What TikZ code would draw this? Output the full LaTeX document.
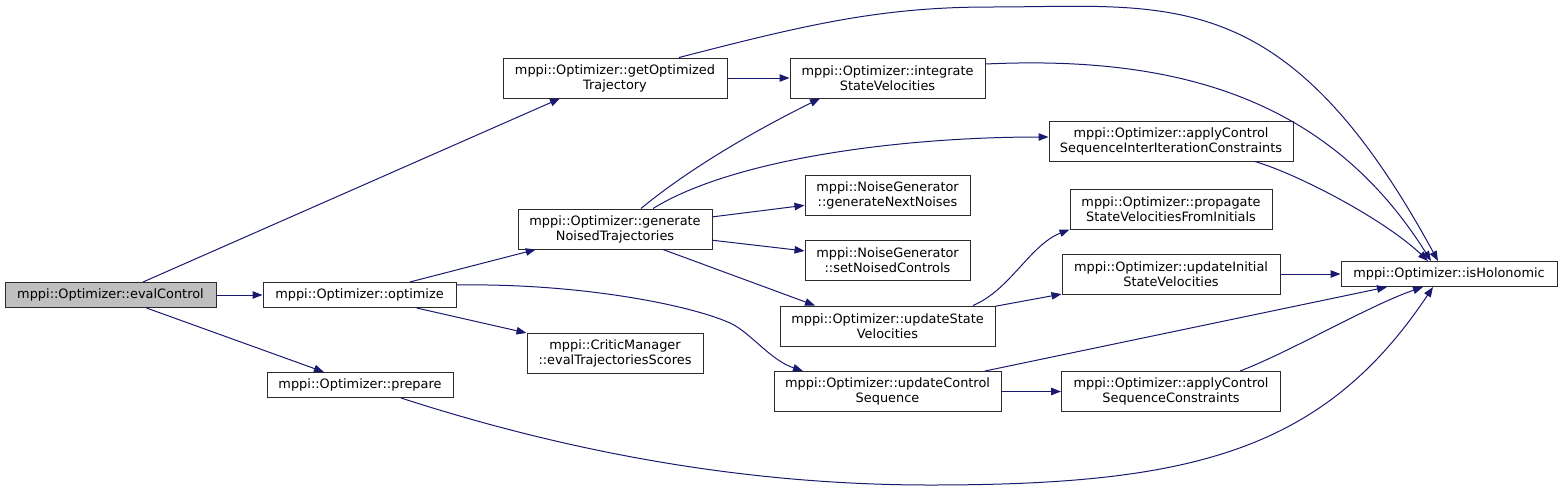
\documentclass[tikz,border=0pt]{standalone}
\usepackage{fontspec}
\setmainfont{DejaVu Sans}
\usetikzlibrary{arrows.meta}

\begin{document}
\begin{tikzpicture}[x=1pt, y=-1pt, font=\fontsize{12.9}{15}\selectfont]

\definecolor{cgedge}{HTML}{191970}
\definecolor{cgframe}{HTML}{2B2B2B}
\definecolor{cgroot}{HTML}{BFBFBF}

\tikzset{
  fn/.style={
    rectangle, draw=cgframe, fill=white, line width=1pt,
    inner sep=0pt, align=center, minimum height=40pt
  },
  fnone/.style={fn, minimum height=25pt},
  fnroot/.style={fnone, fill=cgroot},
  call/.style={
    draw=cgedge, line width=1pt, -{Triangle[length=10pt,width=7.5pt]}
  }
}

\useasboundingbox (0,0) rectangle (1563,491);

% Root of the graph, on the far left.
\node[fnroot, minimum width=211pt] (evalctl) at (110.5,295) {mppi::Optimizer::evalControl};

% First level of callees.
\node[fn, minimum width=224pt]    (getopt) at (615,78) {mppi::Optimizer::getOptimized\\Trajectory};
\node[fnone, minimum width=193pt] (optim)  at (359.5,295) {mppi::Optimizer::optimize};
\node[fnone, minimum width=186pt] (prep)   at (360,385) {mppi::Optimizer::prepare};

% Second level.
\node[fn, minimum width=194pt] (gennoised) at (615,229) {mppi::Optimizer::generate\\NoisedTrajectories};
\node[fn, minimum width=176pt] (evaltraj)  at (615,353) {mppi::CriticManager\\::evalTrajectoriesScores};

% Third level.
\node[fn, minimum width=195pt] (integ)     at (887.5,78) {mppi::Optimizer::integrate\\StateVelocities};
\node[fn, minimum width=165pt] (gennext)   at (887.5,195) {mppi::NoiseGenerator\\::generateNextNoises};
\node[fn, minimum width=165pt] (setnoised) at (887.5,260.5) {mppi::NoiseGenerator\\::setNoisedControls};
\node[fn, minimum width=215pt] (updstate)  at (887.5,326) {mppi::Optimizer::updateState\\Velocities};
\node[fn, minimum width=227pt] (updctrl)   at (887.5,391.5) {mppi::Optimizer::updateControl\\Sequence};

% Fourth level.
\node[fn, minimum width=244pt] (applyinter) at (1171,141) {mppi::Optimizer::applyControl\\SequenceInterIterationConstraints};
\node[fn, minimum width=202pt] (propag)     at (1171,209) {mppi::Optimizer::propagate\\StateVelocitiesFromInitials};
\node[fn, minimum width=218pt] (updinit)    at (1171,274) {mppi::Optimizer::updateInitial\\StateVelocities};
\node[fn, minimum width=219pt] (applycons)  at (1171,391.5) {mppi::Optimizer::applyControl\\SequenceConstraints};

% Sink that most calls end in.
\node[fnone, minimum width=216pt] (isholo) at (1449,274) {mppi::Optimizer::isHolonomic};

% Straight calls, centre to centre.
\foreach \from/\to in {
  evalctl/optim, evalctl/prep,
  getopt/integ,
  optim/gennoised, optim/evaltraj,
  gennoised/gennext, gennoised/setnoised,
  updstate/updinit, updinit/isholo,
  updctrl/applycons}
  \draw[call] (\from) -- (\to);

\draw[call] ([xshift=32.5pt]evalctl.north) -- ([xshift=-55pt]getopt.south);
\draw[call] ([xshift=48pt]gennoised.south) -- ([xshift=-72.5pt]updstate.north);
\draw[call] ([xshift=97.5pt]updctrl.north) -- ([xshift=-62pt]isholo.south);

% Bent calls.
\draw[call] ([yshift=10pt]optim.east)
  .. controls (580,283) and (690,305) .. (730,323)
  .. controls (750,332) and (770,360) .. ([xshift=-84.5pt]updctrl.north);
\draw[call] ([xshift=26pt]gennoised.north)
  .. controls (691,167) and (760,128) .. ([xshift=-67.5pt]integ.south);
\draw[call] ([xshift=38pt]gennoised.north)
  .. controls (733,159) and (900,137) .. ([yshift=4pt]applyinter.west);
\draw[call] ([xshift=85.5pt]updstate.north)
  .. controls (1010,290) and (1030,245) .. (propag.south west);

% Long arcs into isHolonomic.
\draw[call] ([xshift=64pt]getopt.north)
  .. controls (805,25) and (880,7) .. (990,7)
  .. controls (1170,7) and (1285,-20) .. ([xshift=-11pt]isholo.north);
\draw[call] ([yshift=14pt]integ.east)
  .. controls (1180,55) and (1330,100) .. ([xshift=-18pt]isholo.north);
\draw[call] ([xshift=84pt]applyinter.south)
  .. controls (1300,175) and (1385,220) .. ([xshift=-21pt]isholo.north);
\draw[call] ([xshift=69pt]applycons.north)
  .. controls (1290,352) and (1370,305) .. ([xshift=-26pt]isholo.south);
\draw[call] ([xshift=41pt]prep.south)
  .. controls (551,446.5) and (730,485) .. (930,485)
  .. controls (1190,485) and (1323,452) .. ([xshift=-16pt]isholo.south);

\end{tikzpicture}
\end{document}
